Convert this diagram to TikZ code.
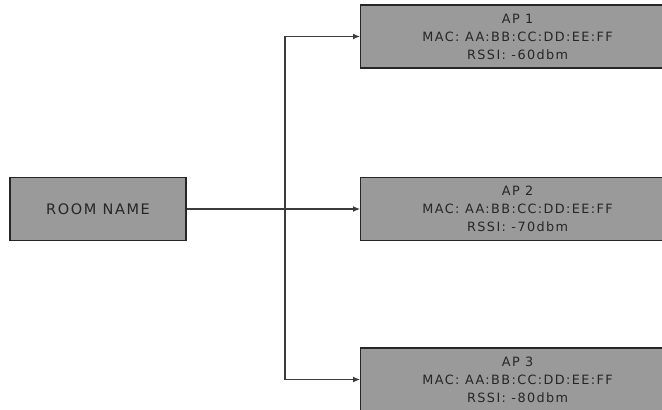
\documentclass[tikz,border=0pt]{standalone}
\usepackage{fontspec}
\setmainfont{DejaVu Sans}
\newfontfamily\boxfont[LetterSpace=11]{DejaVu Sans}
\usetikzlibrary{positioning,arrows.meta}
\definecolor{boxgray}{RGB}{154,154,154}
\definecolor{linegray}{RGB}{60,60,60}
\begin{document}
\begin{tikzpicture}[x=1pt,y=-1pt]
	\tikzset{ box/.style={draw=black!85, line width=1.3pt, fill=boxgray, minimum height=63pt, inner sep=0pt, align=center, text=black!85, font=\boxfont\fontsize{12.8}{18}\selectfont},
		link/.style={draw=linegray, line width=1.1pt, -{Latex[length=7pt,width=6pt]}} }
	\useasboundingbox (0,0) rectangle (662,410);
	\node[box, minimum width=176pt, font=\boxfont\fontsize{14.5}{18}\selectfont] (room) at (98,209) {ROOM NAME};
	\foreach \num/\rssi/\y in {1/60/36.5, 2/70/209, 3/80/379.5} {
			\node[box, minimum width=314pt, anchor=west] (ap\num) at (360,\y) {AP \num\\MAC: AA:BB:CC:DD:EE:FF\\RSSI: -\rssi dbm};
		}
	\coordinate (split) at (285,209);
	\draw[link] (room) -- (ap2);
	\draw[link] (split) |- (ap1);
	\draw[link] (split) |- (ap3);
\end{tikzpicture}
\end{document}
